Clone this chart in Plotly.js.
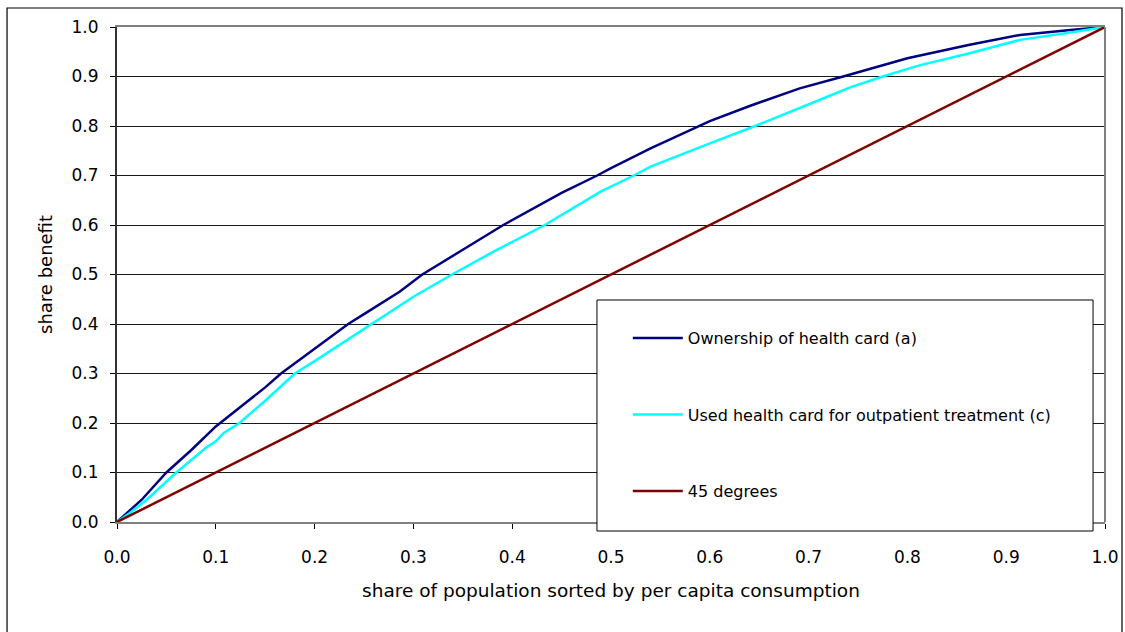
<!DOCTYPE html>
<html>
<head>
<meta charset="utf-8">
<script src="https://cdn.plot.ly/plotly-3.0.1.min.js"></script>
<style>
html,body{margin:0;padding:0;background:#fff;}
#chart{width:1125px;height:632px;}
</style>
</head>
<body>
<div id="chart"></div>
<script>
// share of population (x) and share of benefit (y)
var ownershipX = [0, 0.013, 0.025, 0.05, 0.075, 0.1, 0.125, 0.15, 0.166, 0.2, 0.234, 0.25, 0.286, 0.309, 0.337, 0.35, 0.391, 0.4, 0.45, 0.486, 0.5, 0.54, 0.58, 0.59, 0.6, 0.641, 0.691, 0.735, 0.8, 0.863, 0.914, 0.965, 1];
var ownershipY = [0, 0.024, 0.045, 0.10, 0.145, 0.193, 0.232, 0.272, 0.30, 0.35, 0.40, 0.42, 0.465, 0.50, 0.533, 0.55, 0.60, 0.61, 0.665, 0.70, 0.715, 0.755, 0.792, 0.80, 0.81, 0.841, 0.876, 0.90, 0.937, 0.964, 0.984, 0.994, 1];

var usedX = [0, 0.013, 0.03, 0.06, 0.09, 0.1, 0.108, 0.124, 0.15, 0.18, 0.2, 0.258, 0.286, 0.3, 0.339, 0.38, 0.433, 0.489, 0.523, 0.54, 0.6, 0.646, 0.7115, 0.742, 0.775, 0.813, 0.863, 0.914, 0.965, 1];
var usedY = [0, 0.018, 0.045, 0.10, 0.15, 0.163, 0.18, 0.20, 0.245, 0.30, 0.325, 0.40, 0.438, 0.455, 0.50, 0.545, 0.60, 0.667, 0.70, 0.718, 0.765, 0.80, 0.853, 0.878, 0.90, 0.923, 0.947, 0.974, 0.989, 1];

var diagX = [0, 1];
var diagY = [0, 1];

var seriesNames = ['Ownership of health card (a)', 'Used health card for outpatient treatment (c)', '45 degrees'];
var tickVals = [0, 0.1, 0.2, 0.3, 0.4, 0.5, 0.6, 0.7, 0.8, 0.9, 1.0];
var tickText = ['0.0', '0.1', '0.2', '0.3', '0.4', '0.5', '0.6', '0.7', '0.8', '0.9', '1.0'];
var xTitle = 'share of population sorted by per capita consumption';
var yTitle = 'share benefit';

var FONT = '"DejaVu Sans", "Liberation Sans", Arial, sans-serif';

var traces = [
  {x: ownershipX, y: ownershipY, mode: 'lines', name: seriesNames[0], legendgroup: 'a',
   line: {color: '#000080', width: 2.5}, hoverinfo: 'skip'},
  {x: usedX, y: usedY, mode: 'lines', name: seriesNames[1], legendgroup: 'b',
   line: {color: '#00FFFF', width: 2.5}, hoverinfo: 'skip'},
  {x: diagX, y: diagY, mode: 'lines', name: seriesNames[2], legendgroup: 'c',
   line: {color: '#800000', width: 2.5}, hoverinfo: 'skip'}
];

var layout = {
  width: 1125, height: 632,
  margin: {l: 117, r: 20, t: 27, b: 110, pad: 0},
  paper_bgcolor: '#fff', plot_bgcolor: '#fff',
  font: {family: FONT, size: 17, color: '#000'},
  showlegend: true,
  legend: {
    x: 0.517, xanchor: 'left', y: 0.406, yanchor: 'top',
    bgcolor: 'rgba(0,0,0,0)', borderwidth: 0,
    font: {family: FONT, size: 16, color: '#000'},
    traceorder: 'grouped', tracegroupgap: 52.7, itemwidth: 50
  },
  xaxis: {
    range: [0, 1], tickvals: tickVals, ticktext: tickText,
    showgrid: false, zeroline: false,
    showline: true, mirror: true, linecolor: '#808080', linewidth: 2,
    ticks: 'outside', ticklen: 5, tickwidth: 1, tickcolor: '#000',
    ticklabelstandoff: 14,
    tickfont: {family: FONT, size: 17, color: '#000'},
    title: {text: xTitle, font: {family: FONT, size: 18.5, color: '#000'}, standoff: 18}
  },
  yaxis: {
    range: [0, 1], tickvals: tickVals, ticktext: tickText,
    showgrid: true, gridcolor: '#1a1a1a', gridwidth: 1, zeroline: false,
    showline: true, linecolor: '#333', linewidth: 2,
    ticks: 'outside', ticklen: 5, tickwidth: 1, tickcolor: '#000',
    ticklabelstandoff: 8,
    tickfont: {family: FONT, size: 17, color: '#000'},
    title: {text: yTitle, font: {family: FONT, size: 18, color: '#000'}, standoff: 14}
  },
  shapes: [
    // right border of plot area
    {type: 'line', xref: 'paper', yref: 'paper', x0: 1, x1: 1, y0: 0, y1: 1,
     line: {color: '#808080', width: 2}, layer: 'above'},
    // legend box
    {type: 'rect', xref: 'paper', yref: 'paper', x0: 0.4858, x1: 0.9879, y0: -0.0182, y1: 0.4485,
     line: {color: '#000', width: 1}, fillcolor: '#fff', layer: 'above'},
    // outer chart frame
    {type: 'rect', xref: 'paper', yref: 'paper', x0: -0.1113, x1: 1.0172, y0: -0.25, y1: 1.0384,
     line: {color: '#000', width: 1.2}, fillcolor: 'rgba(0,0,0,0)', layer: 'above'}
  ]
};

Plotly.newPlot('chart', traces, layout, {staticPlot: true, displayModeBar: false});
</script>
</body>
</html>
